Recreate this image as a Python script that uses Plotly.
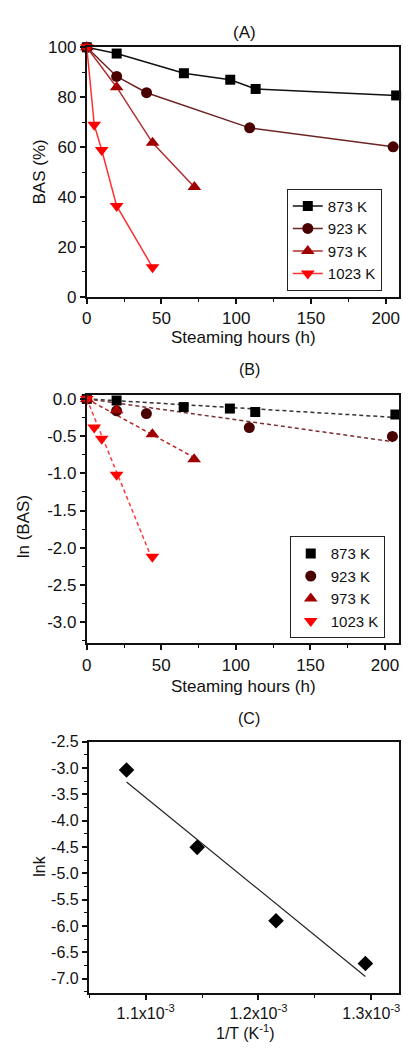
import numpy as np
import plotly.graph_objects as go

# ---------------- data ----------------
temps = ["873 K", "923 K", "973 K", "1023 K"]

# (A) Brønsted acid sites remaining vs. steaming time
hours_873 = [0, 20, 65, 96, 113, 207]
bas_873 = [100, 97.5, 89.6, 87.0, 83.3, 80.7]
hours_923 = [0, 20, 40, 109, 205]
bas_923 = [100, 88.3, 81.8, 67.7, 60.1]
hours_973 = [0, 20, 44, 72]
bas_973 = [100, 84.0, 61.7, 44.0]
hours_1023 = [0, 5, 10, 20, 44]
bas_1023 = [100, 68.9, 58.8, 36.4, 11.8]

# (B) ln(BAS) vs. steaming time
ln_873 = [0, -0.022, -0.11, -0.13, -0.176, -0.21]
ln_923 = [0, -0.16, -0.198, -0.386, -0.505]
ln_973 = [0, -0.154, -0.474, -0.81]
ln_1023 = [0, -0.386, -0.536, -1.02, -2.12]

# (C) Arrhenius plot
inv_T = [1.0831e-3, 1.1457e-3, 1.2156e-3, 1.2948e-3]
ln_k = [-3.04, -4.507, -5.90, -6.71]

# axis tick labels
bas_ticks = [0, 20, 40, 60, 80, 100]
hour_ticks = [0, 50, 100, 150, 200]
ln_ticks = [0.0, -0.5, -1.0, -1.5, -2.0, -2.5, -3.0]
ln_ticktext = ["0.0", "-0.5", "-1.0", "-1.5", "-2.0", "-2.5", "-3.0"]
lnk_ticks = [-2.5, -3.0, -3.5, -4.0, -4.5, -5.0, -5.5, -6.0, -6.5, -7.0]
lnk_ticktext = ["-2.5", "-3.0", "-3.5", "-4.0", "-4.5", "-5.0", "-5.5", "-6.0", "-6.5", "-7.0"]
invT_ticks = [1.1e-3, 1.2e-3, 1.3e-3]
invT_ticktext = ["1.1x10<sup>-3</sup>", "1.2x10<sup>-3</sup>", "1.3x10<sup>-3</sup>"]

# ---------------- styling ----------------
W, H = 408, 1057
FONT = "Liberation Sans, Arial, sans-serif"
INK = "#111111"
marker_colors = ["#000000", "#4a0000", "#a00000", "#ff0000"]
line_colors = ["#111111", "#6e2424", "#b03030", "#ff3030"]
dash_colors = ["#333333", "#7a3030", "#b82828", "#ff3a3a"]
symbols_a = ["square", "circle", "triangle-up", "triangle-down"]
sizes = [10, 11, 12, 12]


def px_x(p):
    return p / W


def px_y(p):
    return 1 - p / H


fig = go.Figure()

series_a = [(hours_873, bas_873), (hours_923, bas_923), (hours_973, bas_973), (hours_1023, bas_1023)]
series_b = [(hours_873, ln_873), (hours_923, ln_923), (hours_973, ln_973), (hours_1023, ln_1023)]

# Panel A: lines + markers
for i, (x, y) in enumerate(series_a):
    fig.add_trace(go.Scatter(
        x=x, y=y, mode="lines+markers", name=temps[i],
        line=dict(color=line_colors[i], width=1.5),
        marker=dict(symbol=symbols_a[i], size=sizes[i], color=marker_colors[i]),
        xaxis="x", yaxis="y", legend="legend", cliponaxis=False,
    ))

# Panel B: first-order fits through the origin (dashed) + markers
for i, (x, y) in enumerate(series_b):
    xa = np.array(x, dtype=float)
    ya = np.array(y, dtype=float)
    slope = float(np.sum(xa * ya) / np.sum(xa * xa))
    xf = np.array([0.0, xa.max()])
    fig.add_trace(go.Scatter(
        x=xf, y=slope * xf, mode="lines", showlegend=False,
        line=dict(color=dash_colors[i], width=1.5, dash="4px,3px"),
        xaxis="x2", yaxis="y2", hoverinfo="skip",
    ))
for i, (x, y) in enumerate(series_b):
    fig.add_trace(go.Scatter(
        x=x, y=y, mode="markers", name=temps[i],
        marker=dict(symbol=symbols_a[i], size=sizes[i], color=marker_colors[i]),
        xaxis="x2", yaxis="y2", legend="legend2", cliponaxis=False,
    ))

# Panel C: Arrhenius points and linear fit
cx = np.array(inv_T)
cy = np.array(ln_k)
m, b = np.polyfit(cx, cy, 1)
fx = np.array([cx.min(), cx.max()])
fig.add_trace(go.Scatter(
    x=fx, y=m * fx + b, mode="lines", showlegend=False,
    line=dict(color="#222222", width=1.2), xaxis="x3", yaxis="y3",
))
fig.add_trace(go.Scatter(
    x=inv_T, y=ln_k, mode="markers", showlegend=False,
    marker=dict(symbol="diamond", size=12, color="#000000"),
    xaxis="x3", yaxis="y3", cliponaxis=False,
))

tickfont = dict(family=FONT, size=17, color=INK)
tickfont_c = dict(family=FONT, size=16, color=INK)


def axis(**kw):
    base = dict(
        showline=True, mirror=True, linecolor=INK, linewidth=1.8,
        ticks="outside", ticklen=5, tickwidth=1.5, tickcolor=INK,
        showgrid=False, zeroline=False, tickfont=tickfont,
        minor=dict(ticks="outside", ticklen=3, tickwidth=1.2, tickcolor=INK, showgrid=False),
    )
    minor = kw.pop("minor", None)
    base.update(kw)
    if minor:
        base["minor"].update(minor)
    return base


dom_x = [px_x(83), px_x(400)]
dom_xc = [px_x(85), px_x(400)]

legend_style = dict(xanchor="left", yanchor="top", bgcolor="white",
                    bordercolor="#222222", borderwidth=1,
                    font=dict(family=FONT, size=15, color=INK),
                    tracegroupgap=0, itemwidth=30)

fig.update_layout(
    width=W, height=H, autosize=False,
    margin=dict(l=0, r=0, t=0, b=0),
    paper_bgcolor="white", plot_bgcolor="white",
    font=dict(family=FONT, size=17, color=INK),
    xaxis=axis(domain=dom_x, range=[0, 209], tickvals=hour_ticks, anchor="y",
               minor=dict(dtick=25, tick0=0)),
    yaxis=axis(domain=[px_y(293), px_y(39)], range=[0, 100], tickvals=bas_ticks, anchor="x",
               minor=dict(dtick=10, tick0=0)),
    xaxis2=axis(domain=dom_x, range=[0, 209.5], tickvals=hour_ticks, anchor="y2",
                minor=dict(dtick=25, tick0=0)),
    yaxis2=axis(domain=[px_y(646), px_y(393)], range=[-3.285, 0.053], tickvals=ln_ticks,
                ticktext=ln_ticktext, anchor="x2", minor=dict(dtick=0.25, tick0=0)),
    xaxis3=axis(domain=dom_xc, range=[1.0496e-3, 1.3247e-3], tickvals=invT_ticks,
                ticktext=invT_ticktext, anchor="y3", tickfont=tickfont_c,
                minor=dict(dtick=0.05e-3, tick0=1.0e-3)),
    yaxis3=axis(domain=[px_y(1002), px_y(746)], range=[-7.27, -2.5], tickvals=lnk_ticks,
                ticktext=lnk_ticktext, anchor="x3", tickfont=tickfont_c,
                minor=dict(dtick=0.25, tick0=0)),
    legend=dict(x=px_x(286), y=px_y(183), **legend_style),
    legend2=dict(x=px_x(289), y=px_y(537), **legend_style),
    showlegend=True,
)

# Panel letters and axis titles
texts = [
    ("(A)", 243, 24, 0, 17),
    ("(B)", 248, 367, 0, 16),
    ("(C)", 248, 722, 0, 16),
    ("Steaming hours (h)", 242, 335, 0, 17),
    ("Steaming hours (h)", 242, 690, 0, 17),
    ("1/T (K<sup>-1</sup>)", 244, 1042, 0, 16),
    ("BAS (%)", 35, 166, -90, 17),
    ("ln (BAS)", 19, 527, -90, 17),
    ("lnk", 35, 873, -90, 16),
]
for t, x, y, ang, sz in texts:
    fig.add_annotation(
        text=t, x=px_x(x), y=px_y(y), xref="paper", yref="paper",
        xanchor="center", yanchor="middle", showarrow=False, textangle=ang,
        font=dict(family=FONT, size=sz, color=INK),
    )

fig.write_html("out.html")
